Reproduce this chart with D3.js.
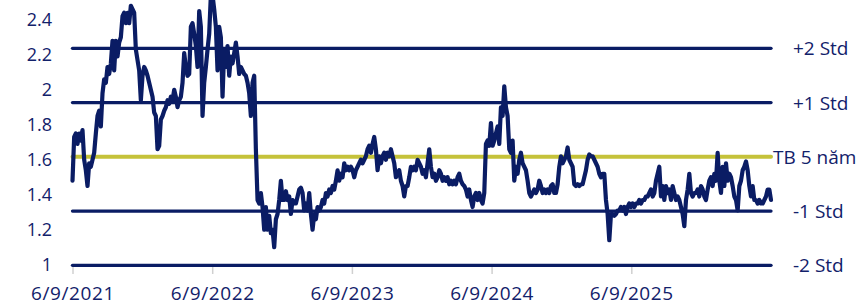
<!DOCTYPE html>
<html><head><meta charset="utf-8">
<script src="https://cdn.jsdelivr.net/npm/d3@7"></script>
<style>body{margin:0;background:#fff}svg{display:block}</style>
</head><body><svg id="c" width="866" height="305"></svg>
<script>
const series = [
1.49,1.74,1.76,1.70,1.76,1.72,1.78,1.61,1.55,1.46,1.59,1.57,1.61,1.65,1.76,1.86,1.89,1.80,1.99,2.07,2.05,2.14,2.10,2.16,2.29,2.12,2.29,2.20,2.28,2.31,2.43,2.45,2.39,2.45,2.39,2.49,2.47,2.45,2.24,2.18,2.12,1.95,2.09,2.14,2.12,2.09,2.05,2.01,1.97,1.88,1.86,1.67,1.69,1.84,1.86,1.89,1.91,1.95,1.93,1.97,1.95,2.01,1.97,1.91,1.95,1.97,2.05,2.22,
2.14,2.09,2.10,2.37,2.39,2.33,2.26,2.14,2.46,2.37,1.86,2.05,2.14,2.24,2.33,2.55,2.55,2.47,2.37,2.12,2.37,2.31,1.97,2.24,2.14,2.26,2.09,2.20,2.16,2.22,2.28,2.20,2.10,2.14,2.12,2.10,2.09,2.05,1.99,1.86,2.05,2.09,1.67,1.38,1.36,1.42,1.34,1.21,1.34,1.21,1.29,1.19,1.21,1.11,1.27,1.30,1.38,1.49,1.38,1.38,1.43,1.38,1.40,1.30,1.38,1.36,1.36,1.40,1.44,1.45,1.42,1.32,
1.36,1.32,1.42,1.30,1.21,1.30,1.27,1.34,1.32,1.34,1.38,1.36,1.42,1.40,1.44,1.42,1.46,1.44,1.49,1.55,1.49,1.53,1.51,1.59,1.55,1.57,1.55,1.57,1.55,1.51,1.55,1.57,1.59,1.61,1.59,1.61,1.63,1.67,1.69,1.65,1.70,1.74,1.67,1.55,1.63,1.59,1.63,1.65,1.61,1.65,1.63,1.67,1.63,1.59,1.51,1.53,1.55,1.49,1.46,1.40,1.46,1.46,1.51,1.57,1.55,1.57,1.55,1.61,1.59,1.57,1.53,
1.55,1.51,1.59,1.67,1.57,1.51,1.53,1.49,1.51,1.55,1.53,1.49,1.51,1.49,1.51,1.47,1.49,1.47,1.49,1.47,1.51,1.53,1.49,1.47,1.46,1.44,1.40,1.44,1.38,1.34,1.40,1.42,1.38,1.42,1.38,1.36,1.42,1.70,1.72,1.69,1.82,1.69,1.72,1.76,1.80,1.70,1.91,1.86,2.03,1.91,1.86,1.67,1.65,1.72,1.49,1.57,1.53,1.61,1.65,1.59,1.57,1.55,1.49,1.42,1.40,1.42,1.44,1.42,1.44,1.49,1.46,
1.42,1.44,1.42,1.44,1.42,1.46,1.47,1.42,1.42,1.47,1.57,1.63,1.59,1.61,1.63,1.68,1.61,1.59,1.57,1.47,1.46,1.47,1.46,1.47,1.47,1.51,1.55,1.61,1.64,1.63,1.63,1.61,1.59,1.57,1.53,1.51,1.53,1.53,1.38,1.30,1.15,1.30,1.30,1.29,1.30,1.32,1.32,1.34,1.32,1.34,1.30,1.34,1.36,1.34,1.36,1.34,1.36,1.36,1.38,1.36,1.38,1.38,1.40,1.40,1.42,1.44,1.40,1.42,1.49,1.53,1.57,
1.40,1.46,1.38,1.46,1.42,1.44,1.38,1.46,1.42,1.38,1.40,1.38,1.34,1.30,1.23,1.38,1.44,1.53,1.42,1.40,1.42,1.42,1.44,1.40,1.46,1.44,1.40,1.38,1.44,1.49,1.51,1.46,1.53,1.49,1.65,1.49,1.42,1.57,1.46,1.59,1.49,1.53,1.51,1.46,1.40,1.38,1.32,1.46,1.49,1.55,1.57,1.60,1.55,1.46,1.40,1.46,1.38,1.38,1.36,1.38,1.36,1.36,1.38,1.40,1.44,1.44,1.38
];
const yTicks = [1, 1.2, 1.4, 1.6, 1.8, 2, 2.2, 2.4];
const yTickLabels = ["1", "1.2", "1.4", "1.6", "1.8", "2", "2.2", "2.4"];
const xTickLabels = ["6/9/2021", "6/9/2022", "6/9/2023", "6/9/2024", "6/9/2025"];
const bandLabels = ["+2 Std", "+1 Std", "TB 5 năm", "-1 Std", "-2 Std"];
const bandValues = [2.247, 1.937, 1.627, 1.317, 1.007];

const NAVY = "#0a1c64";
const OLIVE = "#c5c23a";
const TEXT = "#12216a";
const FONT = "'Open Sans', sans-serif";

const svg = d3.select("#c");
const N = series.length;
const x = d3.scaleLinear().domain([0, N - 1]).range([72.5, 771]);
const y = d3.scaleLinear().domain([1, 2.4]).range([266.5, 21.5]);

// x axis ticks (gray)
const xTickVals = xTickLabels.map((d, i) => i * (N - 1) / 5);
const xAxis = d3.axisBottom(x).tickValues(xTickVals).tickSize(7).tickPadding(10)
  .tickFormat((d, i) => xTickLabels[i]);
const gx = svg.append("g").attr("transform", "translate(0,267)").call(xAxis);
gx.select(".domain").remove();
gx.selectAll(".tick line").attr("stroke", "#d0d0d0").attr("stroke-width", 1.5);
gx.selectAll(".tick text").attr("fill", TEXT).attr("font-family", FONT)
  .attr("font-size", 19).attr("letter-spacing", "0.6px").attr("dy", null).attr("y", 32.5);

// y axis labels
const yAxis = d3.axisLeft(y).tickValues(yTicks).tickSize(0).tickPadding(0)
  .tickFormat((d, i) => yTickLabels[i]);
const gy = svg.append("g").attr("transform", "translate(52,-1.5)").call(yAxis);
gy.select(".domain").remove();
gy.selectAll(".tick text").attr("fill", TEXT).attr("font-family", FONT).attr("font-size", 18);

// band lines
const bands = bandValues.map((v, i) => ({v, label: bandLabels[i], i}));
svg.append("g").selectAll("line").data(bands).join("line")
  .attr("x1", 72.5).attr("x2", 771)
  .attr("y1", d => y(d.v)).attr("y2", d => y(d.v))
  .attr("stroke", d => d.i === 2 ? OLIVE : NAVY)
  .attr("stroke-width", d => d.i === 2 ? 4 : 3.3)
  .attr("stroke-linecap", "round");

// series line
const line = d3.line().x((d, i) => x(i)).y(d => y(d)).curve(d3.curveLinear);
svg.append("path").datum(series).attr("d", line)
  .attr("fill", "none").attr("stroke", NAVY).attr("stroke-width", 4.2)
  .attr("stroke-linejoin", "round").attr("stroke-linecap", "round");

// band labels
svg.append("g").selectAll("text").data(bands).join("text")
  .attr("x", d => d.i === 2 ? 773 : 793)
  .attr("y", d => y(d.v) + 2)
  .attr("dominant-baseline", "middle")
  .attr("fill", TEXT).attr("font-family", FONT).attr("font-size", 19)
  .text(d => d.label);
</script></body></html>
